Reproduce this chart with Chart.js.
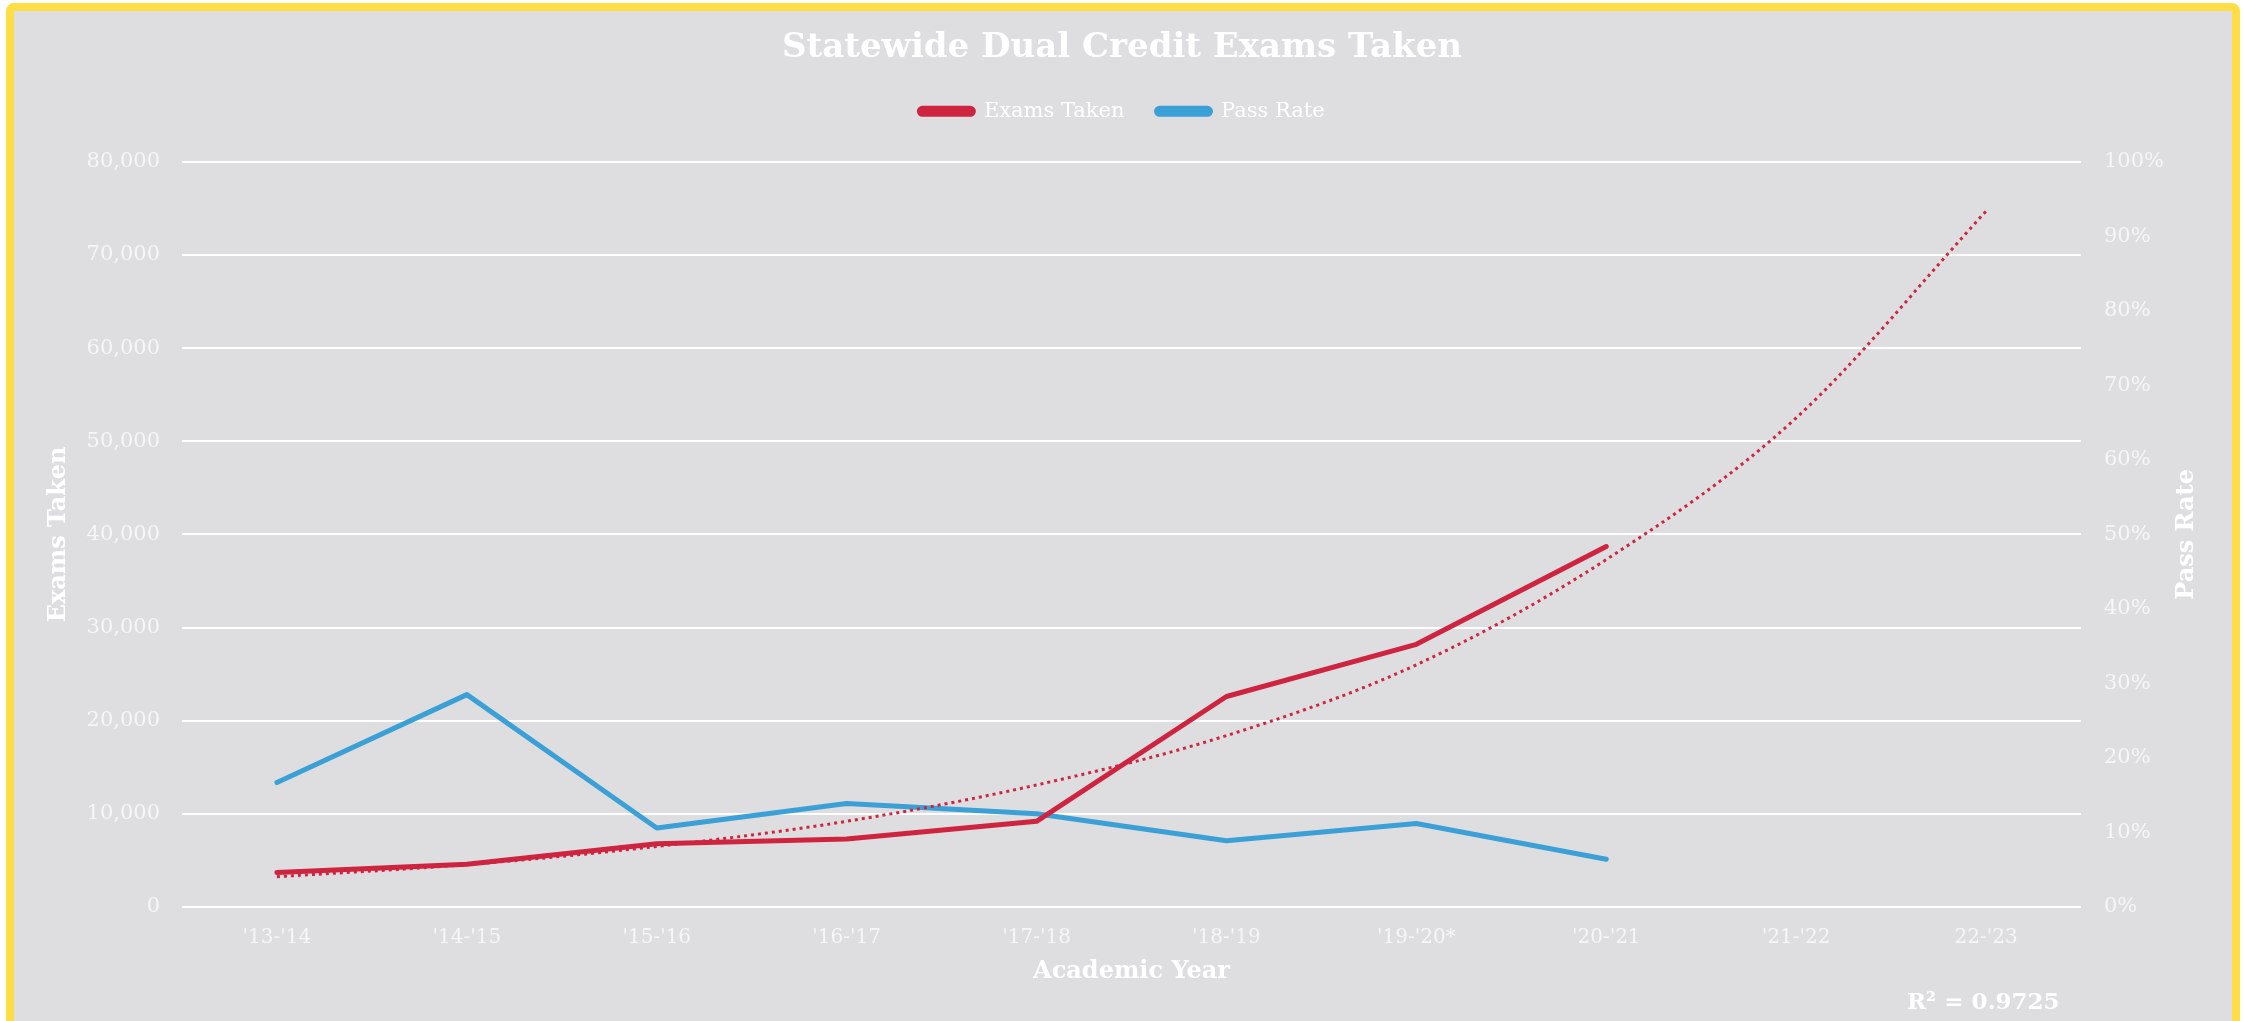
<!DOCTYPE html>
<html>
<head>
<meta charset="utf-8">
<script src="https://cdn.jsdelivr.net/npm/chart.js@4/dist/chart.umd.min.js"></script>
<style>
  html, body { margin: 0; padding: 0; background: #ffffff; }
  #frame {
    position: absolute; left: 6px; top: 3px; width: 2234px; height: 1026px;
    box-sizing: border-box; border: 8px solid #FEDD45; border-radius: 8px;
    background: #DEDEE0;
  }
  #wrap { position: absolute; left: 0; top: 0; width: 2244px; height: 1021px; }
</style>
</head>
<body>
<div id="frame"></div>
<div id="wrap"><canvas id="c"></canvas></div>
<script>
const categories = ["'13-'14", "'14-'15", "'15-'16", "'16-'17", "'17-'18", "'18-'19", "'19-'20*", "'20-'21", "'21-'22", "22-'23"];
const examsTaken = [3700, 4600, 6800, 7300, 9200, 22600, 28200, 38700, null, null];
const passRate = [16.7, 28.5, 10.6, 13.9, 12.5, 8.9, 11.2, 6.4, null, null];
const examsTrend = [3250, 4550, 6500, 9200, 13100, 18400, 26000, 37300, 52500, 74700];
const leftTicks = [0, 10000, 20000, 30000, 40000, 50000, 60000, 70000, 80000];
const rightTicks = [0, 10, 20, 30, 40, 50, 60, 70, 80, 90, 100];
const chartTitle = "Statewide Dual Credit Exams Taken";
const rightTitle = "Pass Rate";
const r2Label = "R² = 0.9725";

const RED = '#CF243F';
const BLUE = '#3AA0D6';
const SERIF = "'DejaVu Serif', 'Liberation Serif', serif";
const TICK = '#F6F6F6';

const spacer = {
  id: 'spacer',
  beforeInit(chart) {
    Chart.layouts.addBox(chart, {
      position: 'top', weight: 0, fullSize: true, options: {},
      top: 0, left: 0, right: 0, bottom: 0, width: 0, height: 0,
      isHorizontal() { return true; },
      update(maxW) { this.width = maxW; this.height = 30; },
      draw() {}
    });
  }
};

const textPlugin = {
  id: 'extraText',
  afterDraw(chart) {
    const ctx = chart.ctx;
    const area = chart.chartArea;
    ctx.save();
    ctx.fillStyle = '#FFFFFF';
    ctx.font = "bold 23px " + SERIF;
    ctx.textAlign = 'left';
    ctx.textBaseline = 'middle';
    ctx.fillText(r2Label, 1907, 1003);
    ctx.font = "bold 24px " + SERIF;
    ctx.textAlign = 'center';
    ctx.translate(2187, (area.top + area.bottom) / 2);
    ctx.rotate(-Math.PI / 2);
    ctx.fillText(rightTitle, 0, 0);
    ctx.restore();
  }
};

new Chart(document.getElementById('c'), {
  type: 'line',
  data: {
    labels: categories,
    datasets: [
      { label: 'Exams Taken', data: examsTaken, yAxisID: 'y', borderColor: RED, backgroundColor: RED,
        borderWidth: 5, pointRadius: 0, borderCapStyle: 'round', borderJoinStyle: 'round', order: 2 },
      { label: 'Pass Rate', data: passRate, yAxisID: 'y1', borderColor: BLUE, backgroundColor: BLUE,
        borderWidth: 5, pointRadius: 0, borderCapStyle: 'round', borderJoinStyle: 'round', order: 3 },
      { label: 'Trend', data: examsTrend, yAxisID: 'y', borderColor: RED, backgroundColor: RED,
        borderWidth: 3, borderDash: [3, 4], pointRadius: 0, cubicInterpolationMode: 'monotone', order: 1 }
    ]
  },
  options: {
    responsive: true, maintainAspectRatio: false, animation: false,
    layout: { padding: { left: 14, right: 14, top: 10, bottom: 14 } },
    plugins: {
      title: { display: true, text: chartTitle, color: '#FFFFFF',
        font: { family: SERIF, size: 34, weight: 'bold', lineHeight: 1.2 },
        padding: { top: 18, bottom: 0 } },
      legend: { display: true, position: 'top',
        labels: { color: '#FFFFFF', font: { family: SERIF, size: 21 }, boxWidth: 54, boxHeight: 6,
          useBorderRadius: true, borderRadius: 3, padding: 32,
          filter: (item) => item.text !== 'Trend' } },
      tooltip: { enabled: false }
    },
    scales: {
      x: {
        offset: true,
        grid: { display: false, drawTicks: false },
        border: { display: false },
        ticks: { color: TICK, font: { family: SERIF, size: 20 }, padding: 19, maxRotation: 0, autoSkip: false },
        title: { display: true, text: 'Academic Year', color: '#FFFFFF',
          font: { family: SERIF, size: 24, weight: 'bold' }, padding: { top: 0, bottom: 21 } },
        afterFit: (s) => { s.height = 100; }
      },
      y: {
        position: 'left', min: 0, max: 80000,
        afterBuildTicks: (s) => { s.ticks = leftTicks.map(v => ({ value: v })); },
        grid: { color: '#FFFFFF', lineWidth: 2, drawTicks: false },
        border: { display: false },
        ticks: { color: TICK, font: { family: SERIF, size: 21 }, padding: 22,
          callback: (v) => Number(v).toLocaleString('en-US') },
        title: { display: true, text: 'Exams Taken', color: '#FFFFFF',
          font: { family: SERIF, size: 24, weight: 'bold' }, padding: { top: 30, bottom: 0 } },
        afterFit: (s) => { s.width = 168; }
      },
      y1: {
        position: 'right', min: 0, max: 100,
        afterBuildTicks: (s) => { s.ticks = rightTicks.map(v => ({ value: v })); },
        grid: { display: false, drawTicks: false },
        border: { display: false },
        ticks: { color: TICK, font: { family: SERIF, size: 21 }, padding: 23,
          callback: (v) => v + '%' },
        title: { display: false },
        afterFit: (s) => { s.width = 149; }
      }
    }
  },
  plugins: [spacer, textPlugin]
});
</script>
</body>
</html>
